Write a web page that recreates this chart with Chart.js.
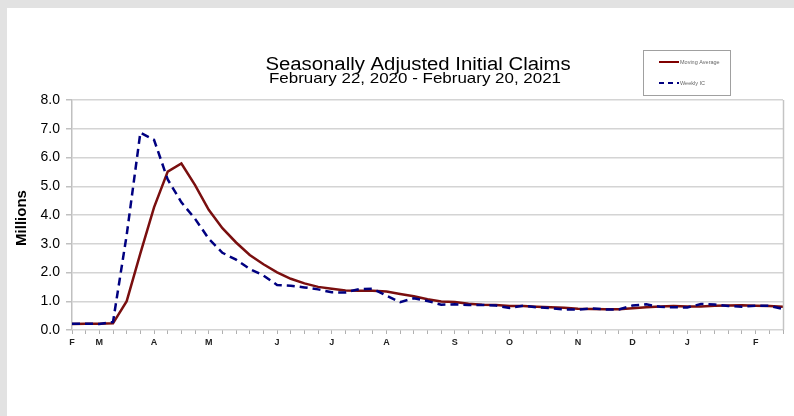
<!DOCTYPE html>
<html>
<head>
<meta charset="utf-8">
<script src="https://cdn.jsdelivr.net/npm/chart.js@4/dist/chart.umd.min.js"></script>
<style>
  html, body { margin: 0; padding: 0; background: #fff; }
  #wrap { position: relative; width: 794px; height: 416px; }
</style>
</head>
<body>
<div id="wrap"><canvas id="claims"></canvas></div>
<script>
// weeks Feb 22, 2020 .. Feb 20, 2021, month letter on first week of each month
const monthLabels = ["F","","M","","","","A","","","","M","","","","","J","","","","J","","","","A","","","","","S","","","","O","","","","","N","","","","D","","","","J","","","","","F","",""];

// millions
const weeklyIC = [0.219, 0.217, 0.211, 0.282, 3.307, 6.867, 6.615, 5.237, 4.442, 3.867,
  3.176, 2.687, 2.446, 2.123, 1.897, 1.566, 1.540, 1.482, 1.413, 1.310,
  1.307, 1.422, 1.435, 1.191, 0.971, 1.104, 1.011, 0.881, 0.893, 0.866,
  0.873, 0.849, 0.767, 0.842, 0.791, 0.757, 0.711, 0.711, 0.748, 0.716,
  0.712, 0.853, 0.892, 0.806, 0.790, 0.784, 0.904, 0.886, 0.836, 0.812,
  0.848, 0.841, 0.730];

const movingAvg = [0.212, 0.215, 0.216, 0.232, 1.004, 2.667, 4.268, 5.507, 5.790, 5.040,
  4.181, 3.543, 3.044, 2.608, 2.288, 2.008, 1.782, 1.621, 1.500, 1.436,
  1.378, 1.363, 1.369, 1.339, 1.255, 1.175, 1.069, 0.992, 0.972, 0.913,
  0.878, 0.870, 0.839, 0.833, 0.812, 0.789, 0.775, 0.743, 0.732, 0.722,
  0.722, 0.757, 0.793, 0.816, 0.835, 0.818, 0.821, 0.841, 0.853, 0.860,
  0.846, 0.834, 0.808];

const yTicks = [0, 1, 2, 3, 4, 5, 6, 7, 8];

const FONT = "'Liberation Sans', Arial, sans-serif";

// text drawn a bit wider than the font, like the original export
function wideText(c, text, x, y, stretch) {
  c.save();
  c.translate(x, y);
  c.scale(stretch, 1);
  c.fillText(text, 0, 0);
  c.restore();
}

// page frame, titles, y title, legend box
const decor = {
  id: "decor",
  beforeDraw(chart) {
    const c = chart.ctx;
    c.save();
    c.fillStyle = "#fff";
    c.fillRect(0, 0, chart.width, chart.height);
    c.fillStyle = "#e2e2e2";
    c.fillRect(0, 0, chart.width, 8);
    c.fillRect(0, 0, 7, chart.height);
    c.restore();
  },
  afterDraw(chart) {
    const c = chart.ctx;
    const area = chart.chartArea;
    c.save();
    // right border of plot
    c.strokeStyle = "#c4c4c4";
    c.lineWidth = 1.5;
    c.beginPath();
    c.moveTo(area.right + 0.5, area.top);
    c.lineTo(area.right + 0.5, area.bottom);
    c.stroke();

    c.fillStyle = "#000";
    c.textAlign = "center";
    c.textBaseline = "alphabetic";
    c.font = "18px " + FONT;
    wideText(c, "Seasonally Adjusted Initial Claims", 418, 70, 1.13);
    c.font = "15px " + FONT;
    wideText(c, "February 22, 2020 - February 20, 2021", 415, 82.5, 1.13);

    c.save();
    c.translate(22, 218);
    c.rotate(-Math.PI / 2);
    c.textBaseline = "middle";
    c.font = "bold 15px " + FONT;
    c.fillText("Millions", 0, 0);
    c.restore();

    // legend
    c.strokeStyle = "#a0a0a0";
    c.lineWidth = 1;
    c.strokeRect(643.5, 50.5, 87, 45);
    c.lineWidth = 2;
    c.strokeStyle = "#800000";
    c.beginPath();
    c.moveTo(659, 62);
    c.lineTo(679, 62);
    c.stroke();
    c.strokeStyle = "#000080";
    c.setLineDash([5, 4]);
    c.beginPath();
    c.moveTo(659, 83);
    c.lineTo(679, 83);
    c.stroke();
    c.setLineDash([]);
    c.fillStyle = "#666";
    c.textAlign = "left";
    c.textBaseline = "middle";
    c.font = "5.5px " + FONT;
    c.fillText("Moving Average", 680, 62);
    c.fillText("Weekly IC", 680, 83);
    c.restore();
  }
};

new Chart(document.getElementById("claims"), {
  type: "line",
  data: {
    labels: monthLabels,
    datasets: [
      {
        label: "Weekly IC",
        data: weeklyIC,
        borderColor: "#000080",
        borderWidth: 2.5,
        borderDash: [8, 5],
        pointRadius: 0,
        tension: 0
      },
      {
        label: "Moving Average",
        data: movingAvg,
        borderColor: "#7a0f0f",
        borderWidth: 2.5,
        pointRadius: 0,
        tension: 0
      }
    ]
  },
  options: {
    responsive: true,
    maintainAspectRatio: false,
    animation: false,
    layout: { padding: { left: 7, right: 11, top: 100, bottom: 62 } },
    plugins: {
      legend: { display: false },
      title: { display: false },
      tooltip: { enabled: false }
    },
    scales: {
      x: {
        offset: false,
        afterFit(scale) { scale.height = 24; },
        grid: { drawOnChartArea: false, drawTicks: true, tickLength: 4, color: "#b0b0b0", lineWidth: 1 },
        border: { display: false },
        ticks: {
          autoSkip: false,
          maxRotation: 0,
          padding: 3,
          color: "#222",
          font: { family: FONT, size: 9, weight: "bold" }
        }
      },
      y: {
        min: 0,
        max: 8,
        afterFit(scale) { scale.width = 65; },
        afterBuildTicks(scale) { scale.ticks = yTicks.map(v => ({ value: v })); },
        grid: { color: "#d4d4d4", lineWidth: 1.5, tickLength: 6, tickColor: "#c0c0c0" },
        border: { color: "#c0c0c0", width: 1.5 },
        ticks: {
          padding: 6,
          color: "#000",
          font: { family: FONT, size: 14 },
          callback: v => v.toFixed(1)
        }
      }
    }
  },
  plugins: [decor]
});
</script>
</body>
</html>
